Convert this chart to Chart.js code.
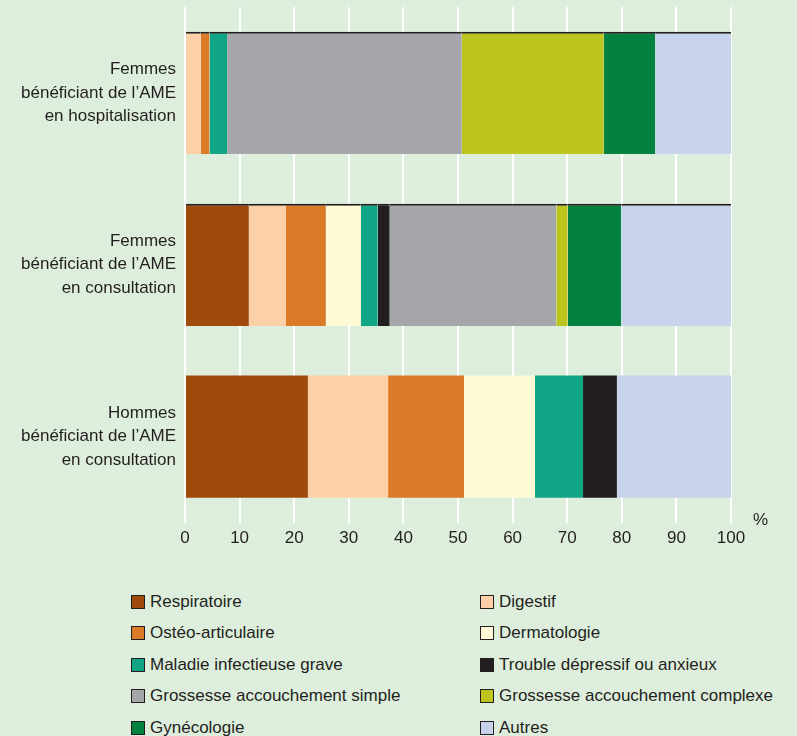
<!DOCTYPE html>
<html>
<head>
<meta charset="utf-8">
<script src="https://cdn.jsdelivr.net/npm/chart.js@4"></script>
<style>
  html, body { margin: 0; padding: 0; background: #deeedc; }
  #wrap { position: relative; width: 797px; height: 736px; overflow: hidden; }
  #chart-box { position: absolute; left: 0; top: 0; width: 797px; height: 560px; }
  #legend { position: absolute; left: 131px; top: 586px; display: grid;
    grid-template-columns: 349px 300px; row-gap: 0; font-family: 'Liberation Sans Narrow', 'Liberation Sans', Arial, sans-serif;
    font-size: 17px; color: #231f20; }
  .item { height: 31.5px; display: flex; align-items: center; white-space: nowrap; }
  .box { width: 12px; height: 12px; border: 1px solid #231f20; margin-right: 5px; }
</style>
</head>
<body>
<div id="wrap">
  <div id="chart-box"><canvas id="ameChart"></canvas></div>
  <div id="legend"></div>
</div>
<script>
const categories = [
  ["Femmes", "bénéficiant de l’AME", "en hospitalisation"],
  ["Femmes", "bénéficiant de l’AME", "en consultation"],
  ["Hommes", "bénéficiant de l’AME", "en consultation"]
];
const seriesNames = [
  "Respiratoire", "Digestif", "Ostéo-articulaire", "Dermatologie",
  "Maladie infectieuse grave", "Trouble dépressif ou anxieux",
  "Grossesse accouchement simple", "Grossesse accouchement complexe",
  "Gynécologie", "Autres"
];
const respiratoire      = [0,    11.7, 22.5];
const digestif          = [2.9,  6.8,  14.7];
const osteoArticulaire  = [1.6,  7.3,  13.9];
const dermatologie      = [0,    6.4,  13.0];
const infectieuse       = [3.2,  3.1,  8.8];
const troubleDepressif  = [0,    2.2,  6.2];
const grossesseSimple   = [43.0, 30.5, 0];
const grossesseComplexe = [26.0, 2.1,  0];
const gynecologie       = [9.4,  9.8,  0];
const autres            = [13.9, 20.1, 20.9];
const xTicks = [0, 10, 20, 30, 40, 50, 60, 70, 80, 90, 100];

const seriesValues = [respiratoire, digestif, osteoArticulaire, dermatologie, infectieuse,
  troubleDepressif, grossesseSimple, grossesseComplexe, gynecologie, autres];
const colors = ['#a04a0b', '#fdd0a7', '#db7b27', '#fffad6', '#10a584',
  '#231f20', '#a6a7ab', '#bcc41d', '#03813e', '#c7d3eb'];

const fontFamily = "'Liberation Sans Narrow', 'Liberation Sans', Arial, sans-serif";

// petit "%" au bout de l'axe
const percentLabel = {
  id: 'percentLabel',
  afterDraw(chart) {
    const { ctx, chartArea } = chart;
    ctx.save();
    ctx.fillStyle = '#231f20';
    ctx.font = '17px ' + fontFamily;
    ctx.textAlign = 'left';
    ctx.textBaseline = 'middle';
    ctx.fillText('%', chartArea.right + 22, chartArea.bottom - 2);
    ctx.restore();
  }
};

new Chart(document.getElementById('ameChart'), {
  type: 'bar',
  data: {
    labels: categories,
    datasets: seriesNames.map((name, i) => ({
      label: name,
      data: seriesValues[i],
      backgroundColor: colors[i],
      borderColor: '#231f20',
      borderWidth: c => c.dataIndex < 2 ? { top: 2, left: 0, right: 0, bottom: 0 } : 0,
      borderSkipped: false,
      categoryPercentage: 1,
      barPercentage: 0.711
    }))
  },
  plugins: [percentLabel],
  options: {
    indexAxis: 'y',
    responsive: true,
    maintainAspectRatio: false,
    animation: false,
    layout: { padding: { top: 7, right: 66, bottom: 5, left: 0 } },
    plugins: {
      legend: { display: false },
      tooltip: { enabled: false }
    },
    scales: {
      x: {
        stacked: true,
        min: 0,
        max: 100,
        afterBuildTicks: s => { s.ticks = xTicks.map(v => ({ value: v })); },
        grid: { color: '#ffffff', lineWidth: 2, drawTicks: false },
        border: { display: false },
        ticks: {
          padding: 6,
          color: '#231f20',
          font: { family: fontFamily, size: 17 }
        }
      },
      y: {
        stacked: true,
        grid: { display: false },
        border: { display: false },
        afterFit: s => {
          s.width = 185;
          s.paddingTop = 0;
          s.paddingBottom = 0;
        },
        ticks: {
          padding: 1,
          color: '#231f20',
          font: { family: fontFamily, size: 17, lineHeight: 1.4 }
        }
      }
    }
  }
});

// légende en deux colonnes
const legend = document.getElementById('legend');
seriesNames.forEach((name, i) => {
  const item = document.createElement('div');
  item.className = 'item';
  item.innerHTML = '<span class="box" style="background:' + colors[i] + '"></span>' + name;
  legend.appendChild(item);
});
</script>
</body>
</html>
